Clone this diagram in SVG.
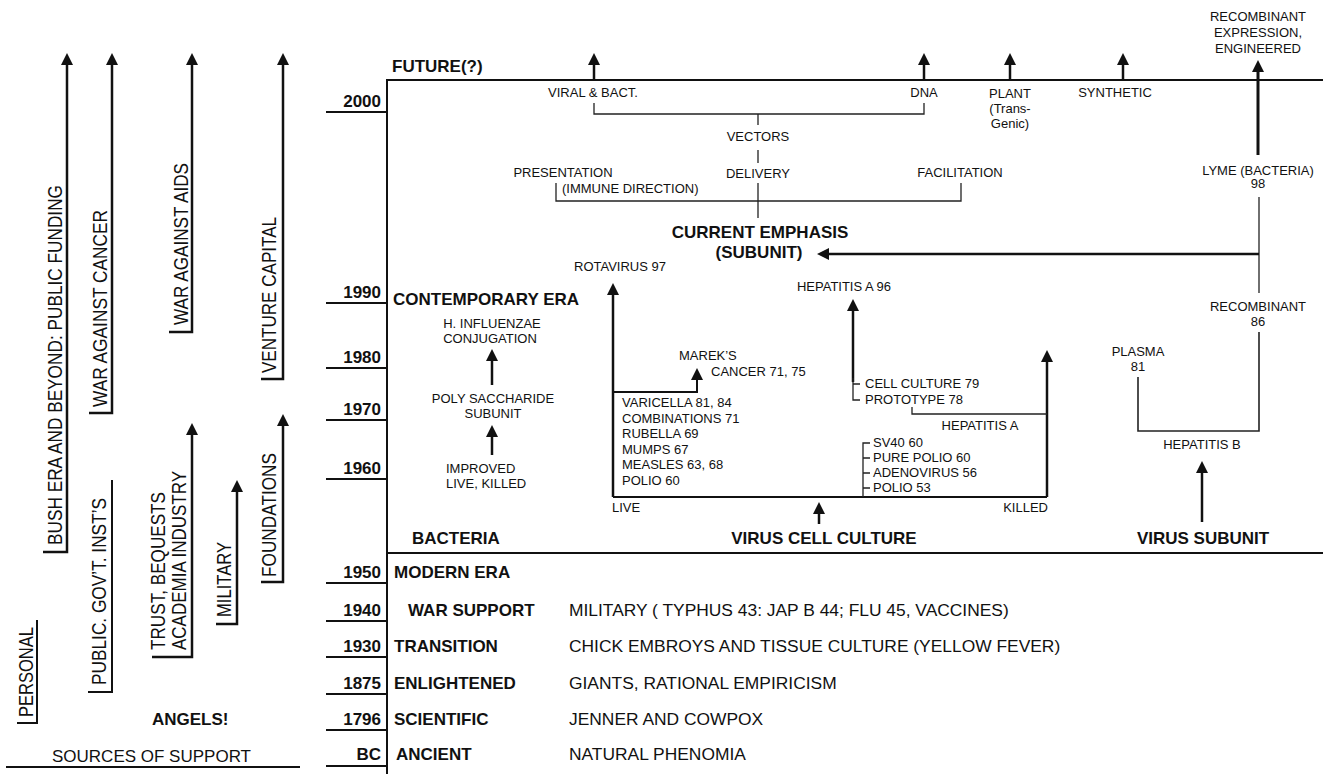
<svg xmlns="http://www.w3.org/2000/svg" width="1323" height="774" viewBox="0 0 1323 774">
<style>
text{font-family:"Liberation Sans",Arial,Helvetica,sans-serif;fill:#111}
.s{font-size:13px}
.m{font-size:17px}
.d{font-size:17.4px}
.b{font-size:17px;font-weight:bold}
.r{font-size:21px}
.c{text-anchor:middle}
.e{text-anchor:end}
.fr{stroke:#111;stroke-width:2;fill:none}
.tk{stroke:#111;stroke-width:2.5;fill:none}
.md{stroke:#111;stroke-width:2;fill:none}
.tn{stroke:#222;stroke-width:1.3;fill:none}
.ar{marker-end:url(#ah)}
</style>
<defs>
<marker id="ah" viewBox="0 0 12 12" refX="4" refY="6" markerWidth="12" markerHeight="12" markerUnits="userSpaceOnUse" orient="auto">
<path d="M0,0 L12,6 L0,12 Z" fill="#111"/>
</marker>
</defs>
<rect width="1323" height="774" fill="#fff"/>

<g id="frame">
<path class="fr" d="M387,774 V80 H1323"/>
<path class="fr" d="M387,553 H1323"/>
<path class="fr" d="M326,112 H387 M326,303 H387 M326,368 H387 M326,420 H387 M326,479 H387 M326,583 H387 M326,621 H387 M326,657 H387 M326,694 H387 M326,730 H387 M326,766 H387"/>
</g>

<g id="years">
<text class="b e" x="381" y="107">2000</text>
<text class="b e" x="381" y="298">1990</text>
<text class="b e" x="381" y="363">1980</text>
<text class="b e" x="381" y="415">1970</text>
<text class="b e" x="381" y="474">1960</text>
<text class="b e" x="381" y="578">1950</text>
<text class="b e" x="381" y="616">1940</text>
<text class="b e" x="381" y="652">1930</text>
<text class="b e" x="381" y="689">1875</text>
<text class="b e" x="381" y="725">1796</text>
<text class="b e" x="381" y="760">BC</text>
</g>

<g id="eras">
<text class="b" x="392" y="72">FUTURE(?)</text>
<text class="b" x="393" y="305">CONTEMPORARY ERA</text>
<text class="b" x="412" y="544">BACTERIA</text>
<text class="b c" x="824" y="544">VIRUS CELL CULTURE</text>
<text class="b c" x="1203" y="544">VIRUS SUBUNIT</text>
<text class="b" x="394" y="578">MODERN ERA</text>
<text class="b" x="408" y="616">WAR SUPPORT</text>
<text class="b" x="394" y="652">TRANSITION</text>
<text class="b" x="394" y="689">ENLIGHTENED</text>
<text class="b" x="394" y="725">SCIENTIFIC</text>
<text class="b" x="396" y="760">ANCIENT</text>
</g>

<g id="history">
<text class="d" x="569" y="616">MILITARY ( TYPHUS 43: JAP B 44; FLU 45, VACCINES)</text>
<text class="d" x="569" y="652">CHICK EMBROYS AND TISSUE CULTURE (YELLOW FEVER)</text>
<text class="d" x="569" y="689">GIANTS, RATIONAL EMPIRICISM</text>
<text class="d" x="569" y="725">JENNER AND COWPOX</text>
<text class="d" x="569" y="760">NATURAL PHENOMIA</text>
</g>

<g id="connectors">
<path class="tk ar" d="M43,552 H67 V61"/>
<path class="tk ar" d="M89,413 H112 V61"/>
<path class="tk ar" d="M169,332 H192 V61"/>
<path class="tk ar" d="M261,379 H283 V61"/>
<path class="md" d="M88,692 H112 V480"/>
<path class="md" d="M17,723 H37 V620"/>
<path class="tk ar" d="M152,657 H192 V431"/>
<path class="tk ar" d="M216,624 H237 V488"/>
<path class="tk ar" d="M261,582 H283 V422"/>
<path class="md" d="M6,767 H300"/>
<path class="tk ar" d="M594,80 V61"/>
<path class="tk ar" d="M924,80 V61"/>
<path class="tk ar" d="M1010,80 V61"/>
<path class="tk ar" d="M1123,80 V61"/>
<path class="tk ar" d="M1258,155 V68" style="stroke-width:3"/>
<path class="tn" d="M594,103 V114 H924 V103"/>
<path class="tn" d="M758,114 V125 M758,150 V163 M758,183 V218"/>
<path class="tn" d="M556,183 V201 H961 V183"/>
<path class="tn" d="M1259,197 V293"/>
<path class="tk ar" d="M1259,254 H825"/>
<path class="tn" d="M1259,332 V431 H1138 V377" style="stroke-width:1.6"/>
<path class="tk ar" d="M1202,522 V469"/>
<path class="tk ar" d="M492,385 V357"/>
<path class="tk ar" d="M492,455 V433"/>
<path class="tk ar" d="M613,497 V291"/>
<path class="md" d="M613,497 H1047"/>
<path class="tk ar" d="M1047,497 V358"/>
<path class="md ar" d="M613,392 H697 V376"/>
<path class="tk ar" d="M853,382 V307"/>
<path class="tn" d="M853,378 V400 H860 M853,384 H860"/>
<path class="tn" d="M912,407 V414 H1047"/>
<path class="tn" d="M870,443 H863 V497 M863,458 H870 M863,473 H870 M863,488 H870"/>
<path class="tk ar" d="M819,524 V510"/>
</g>

<g id="support-labels">
<text class="r" transform="translate(62,545) rotate(-90)" textLength="360" lengthAdjust="spacingAndGlyphs">BUSH ERA AND BEYOND: PUBLIC FUNDING</text>
<text class="r" transform="translate(107,407) rotate(-90)" textLength="197" lengthAdjust="spacingAndGlyphs">WAR AGAINST CANCER</text>
<text class="r" transform="translate(188,325) rotate(-90)" textLength="162" lengthAdjust="spacingAndGlyphs">WAR AGAINST AIDS</text>
<text class="r" transform="translate(276,373) rotate(-90)" textLength="156" lengthAdjust="spacingAndGlyphs">VENTURE CAPITAL</text>
<text class="r" transform="translate(106,685) rotate(-90)" textLength="187" lengthAdjust="spacingAndGlyphs">PUBLIC. GOV’T. INST’S</text>
<text class="r" transform="translate(33,717) rotate(-90)" textLength="90" lengthAdjust="spacingAndGlyphs">PERSONAL</text>
<text class="r" transform="translate(165,650) rotate(-90)" textLength="158" lengthAdjust="spacingAndGlyphs">TRUST, BEQUESTS</text>
<text class="r" transform="translate(186,650) rotate(-90)" textLength="179" lengthAdjust="spacingAndGlyphs">ACADEMIA INDUSTRY</text>
<text class="r" transform="translate(231,617) rotate(-90)" textLength="75" lengthAdjust="spacingAndGlyphs">MILITARY</text>
<text class="r" transform="translate(276,577) rotate(-90)" textLength="124" lengthAdjust="spacingAndGlyphs">FOUNDATIONS</text>
<text class="b" x="152" y="725">ANGELS!</text>
<text class="m" x="52" y="762">SOURCES OF SUPPORT</text>
</g>

<g id="future-labels">
<text class="s c" x="593" y="97">VIRAL &amp; BACT.</text>
<text class="s c" x="924" y="97">DNA</text>
<text class="s c" x="1010" y="98">PLANT</text>
<text class="s c" x="1010" y="113">(Trans-</text>
<text class="s c" x="1010" y="128">Genic)</text>
<text class="s c" x="1115" y="97">SYNTHETIC</text>
<text class="s c" x="1258" y="21">RECOMBINANT</text>
<text class="s c" x="1258" y="37">EXPRESSION,</text>
<text class="s c" x="1258" y="53">ENGINEERED</text>
</g>

<g id="vectors">
<text class="s c" x="758" y="141">VECTORS</text>
<text class="s c" x="758" y="178">DELIVERY</text>
<text class="s c" x="563" y="177">PRESENTATION</text>
<text class="s" x="562" y="193">(IMMUNE DIRECTION)</text>
<text class="s c" x="960" y="177">FACILITATION</text>
</g>

<g id="current-emphasis">
<text class="b c" x="760" y="238">CURRENT EMPHASIS</text>
<text class="b c" x="759" y="258">(SUBUNIT)</text>
</g>

<g id="subunit">
<text class="s c" x="1258" y="175">LYME (BACTERIA)</text>
<text class="s c" x="1258" y="188">98</text>
<text class="s c" x="1258" y="311">RECOMBINANT</text>
<text class="s c" x="1258" y="326">86</text>
<text class="s c" x="1138" y="356">PLASMA</text>
<text class="s c" x="1138" y="371">81</text>
<text class="s c" x="1202" y="449">HEPATITIS B</text>
</g>

<g id="bacteria">
<text class="s c" x="492" y="328">H. INFLUENZAE</text>
<text class="s c" x="490" y="343">CONJUGATION</text>
<text class="s c" x="493" y="403">POLY SACCHARIDE</text>
<text class="s c" x="493" y="418">SUBUNIT</text>
<text class="s" x="446" y="473">IMPROVED</text>
<text class="s" x="446" y="488">LIVE, KILLED</text>
</g>

<g id="live">
<text class="s c" x="620" y="271">ROTAVIRUS 97</text>
<text class="s" x="679" y="360">MAREK’S</text>
<text class="s" x="711" y="376">CANCER 71, 75</text>
<text class="s" x="622" y="407">VARICELLA 81, 84</text>
<text class="s" x="622" y="422.5">COMBINATIONS 71</text>
<text class="s" x="622" y="438">RUBELLA 69</text>
<text class="s" x="622" y="453.5">MUMPS 67</text>
<text class="s" x="622" y="469">MEASLES 63, 68</text>
<text class="s" x="622" y="484.5">POLIO 60</text>
<text class="s" x="612" y="512">LIVE</text>
</g>

<g id="killed">
<text class="s c" x="844" y="291">HEPATITIS A 96</text>
<text class="s" x="865" y="388">CELL CULTURE 79</text>
<text class="s" x="865" y="404">PROTOTYPE 78</text>
<text class="s c" x="980" y="430">HEPATITIS A</text>
<text class="s" x="873" y="447">SV40 60</text>
<text class="s" x="873" y="462">PURE POLIO 60</text>
<text class="s" x="873" y="477">ADENOVIRUS 56</text>
<text class="s" x="873" y="492">POLIO 53</text>
<text class="s e" x="1048" y="512">KILLED</text>
</g>
</svg>
